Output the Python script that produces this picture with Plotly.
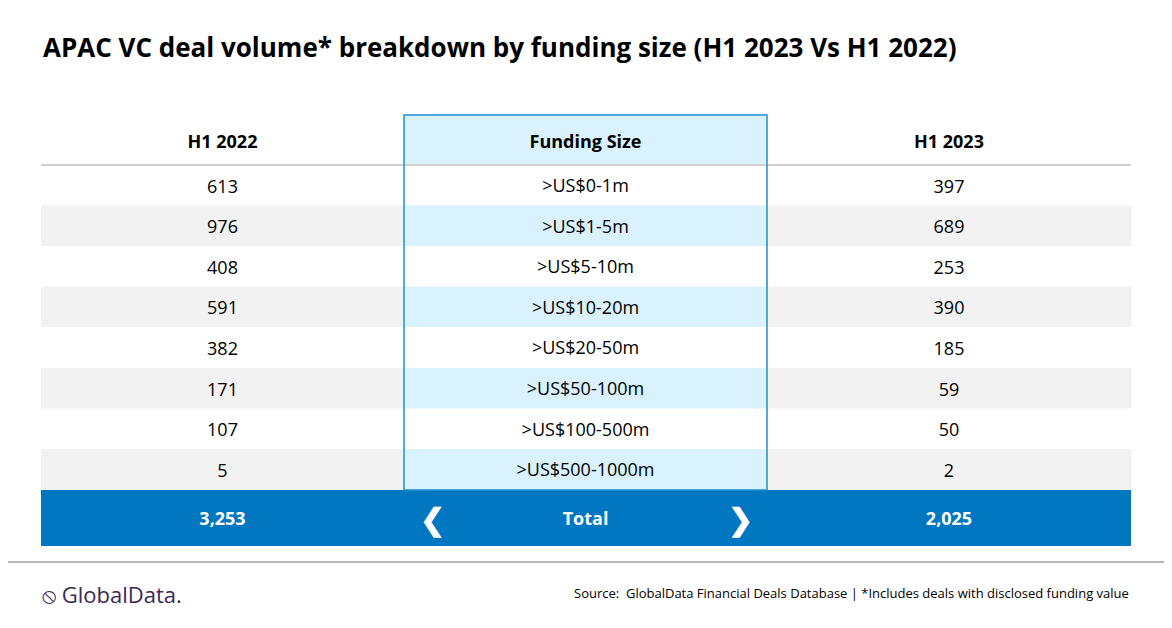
import plotly.graph_objects as go

# table data
funding_sizes = [">US$0-1m", ">US$1-5m", ">US$5-10m", ">US$10-20m", ">US$20-50m",
                 ">US$50-100m", ">US$100-500m", ">US$500-1000m"]
h1_2022 = [613, 976, 408, 591, 382, 171, 107, 5]
h1_2023 = [397, 689, 253, 390, 185, 59, 50, 2]
totals = ["3,253", "Total", "2,025"]
headers = ["H1 2022", "Funding Size", "H1 2023"]

# page has an 8px body margin, so the figure is a bit smaller than the window
OFF = 8
W, H = 1172 - OFF, 628 - OFF
FONT = "Open Sans"
BLUE = "#0077c0"
CLEAR = "rgba(0,0,0,0)"


def px(x):
    return (x - OFF) / W


def py(y):
    return 1 - (y - OFF) / H


n = len(funding_sizes)
blank = [""] * n
side_fill = ["white" if i % 2 == 0 else "#f2f2f2" for i in range(n)]
mid_fill = ["white" if i % 2 == 0 else "#d9f2fd" for i in range(n)]
cols = [363, 363, 364]
cell_font = dict(family=FONT, size=18, color="black")

fig = go.Figure()
# body: fills and the funding size column
fig.add_trace(go.Table(
    domain=dict(x=[px(41), px(1131)], y=[py(490), py(115)]),
    columnwidth=cols,
    header=dict(values=["", "", ""],
                fill_color=["white", "#d9f2fd", "white"],
                line=dict(color=["white", "#d9f2fd", "white"], width=0.5),
                height=50),
    cells=dict(values=[blank, [s.replace("$", "&#36;") for s in funding_sizes], blank],
               fill_color=[side_fill, mid_fill, side_fill],
               line=dict(color=[side_fill, mid_fill, side_fill], width=0.5),
               font=cell_font, align="center", height=40.6),
))
# headers and the two number columns, nudged down so they sit centred in their rows
fig.add_trace(go.Table(
    domain=dict(x=[px(41), px(1131)], y=[py(495), py(121)]),
    columnwidth=cols,
    header=dict(values=["<b>%s</b>" % h for h in headers],
                fill_color=CLEAR, line=dict(color=CLEAR, width=0),
                font=cell_font, align="center", height=50),
    cells=dict(values=[[str(v) for v in h1_2022], blank, [str(v) for v in h1_2023]],
               fill_color=CLEAR, line=dict(color=CLEAR, width=0),
               font=cell_font, align="center", height=40.6),
))
# total row: blue band drawn as a shape, transparent table nudged down
fig.add_trace(go.Table(
    domain=dict(x=[px(41), px(1131)], y=[py(554), py(498)]),
    columnwidth=cols,
    header=dict(values=["<b>%s</b>" % t for t in totals],
                fill_color=CLEAR, line=dict(color=CLEAR, width=0),
                font=dict(family=FONT, size=18, color="white"),
                align="center", height=55),
))

shapes = [
    dict(type="rect", xref="paper", yref="paper", x0=px(41), x1=px(1131),
         y0=py(546), y1=py(490), fillcolor=BLUE, line=dict(width=0), layer="below"),
    dict(type="line", xref="paper", yref="paper", x0=px(41), x1=px(1131),
         y0=py(165), y1=py(165), line=dict(color="#d0d0d0", width=2)),
    dict(type="rect", xref="paper", yref="paper", x0=px(404), x1=px(767),
         y0=py(490), y1=py(115), line=dict(color="#1f8fd0", width=1.5)),
    dict(type="line", xref="paper", yref="paper", x0=0, x1=1,
         y0=py(562), y1=py(562), line=dict(color="#a0a0a0", width=1.5)),
]

annotations = [
    dict(text="<b>APAC VC deal volume* breakdown by funding size (H1 2023 Vs H1 2022)</b>",
         x=px(41), y=py(47), xanchor="left",
         font=dict(family=FONT, size=26, color="black")),
    dict(text="<b>❮</b>", x=px(432), y=py(518),
         font=dict(family=FONT, size=30, color="white")),
    dict(text="<b>❯</b>", x=px(740), y=py(518),
         font=dict(family=FONT, size=30, color="white")),
    dict(text="⦸ GlobalData.", x=px(40), y=py(594), xanchor="left",
         font=dict(family=FONT, size=22, color="#3b2a55")),
    dict(text="Source:  GlobalData Financial Deals Database | *Includes deals with disclosed funding value",
         x=px(1131), y=py(593), xanchor="right",
         font=dict(family=FONT, size=13, color="black")),
]
for a in annotations:
    a.update(xref="paper", yref="paper", yanchor="middle", showarrow=False)

fig.update_layout(width=W, height=H, margin=dict(l=0, r=0, t=0, b=0),
                  paper_bgcolor="white", shapes=shapes, annotations=annotations)

fig.write_html("out.html")
